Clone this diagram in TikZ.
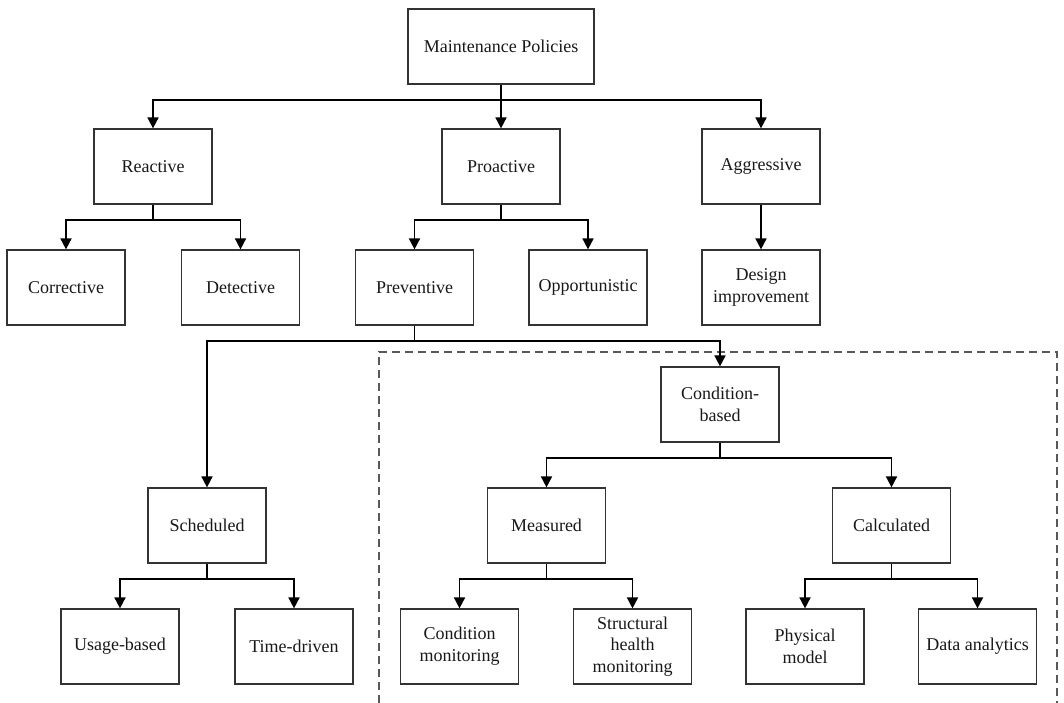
\documentclass[tikz,border=0pt]{standalone}
\usepackage{fontspec}
\setmainfont{Liberation Serif}
\usetikzlibrary{arrows.meta}
\begin{document}
\begin{tikzpicture}[x=1pt,y=-1pt,
  box/.style={draw=black!80, line width=1.2pt, fill=white, rectangle,
    minimum width=118pt, minimum height=75pt, inner sep=2pt, align=center,
    font=\fontsize{18}{21.7}\selectfont, text=black!90},
  arr/.style={draw=black, line width=1.7pt,
    -{Triangle[length=11pt,width=11pt]}},
  conn/.style={draw=black, line width=1.7pt},
  frame/.style={draw=black!65, line width=1.1pt, dash pattern=on 8pt off 5pt}]
\useasboundingbox (0,0) rectangle (1064,703);

% dashed frame around the condition-based branch (open at the bottom)
\coordinate (f1) at (379,703);
\coordinate (f2) at (379,352);
\coordinate (f3) at (1057,352);
\coordinate (f4) at (1057,703);
\draw[frame] (f1) -- (f2) -- (f3) -- (f4);

% level 0
\node[box, minimum width=186pt] (mp) at (501,46.5) {Maintenance Policies};
% level 1
\node[box] (reactive)   at (153,166.5) {Reactive};
\node[box] (proactive)  at (501,166.5) {Proactive};
\node[box] (aggressive) at (761,166.5) {Aggressive};
% level 2
\node[box] (corrective)    at (66,287.5)  {Corrective};
\node[box] (detective)     at (240.5,287.5) {Detective};
\node[box] (preventive)    at (414.5,287.5) {Preventive};
\node[box] (opportunistic) at (588,287.5) {Opportunistic};
\node[box] (design)        at (761,287.5) {Design\\improvement};
% condition-based
\node[box] (condbased) at (720,404.5) {Condition-\\based};
% level 3
\node[box] (scheduled)  at (207,525.5)   {Scheduled};
\node[box] (measured)   at (546.5,525.5) {Measured};
\node[box] (calculated) at (891.5,525.5) {Calculated};
% level 4
\node[box] (usage)    at (120,646.5)   {Usage-based};
\node[box] (timedrv)  at (294,646.5)   {Time-driven};
\node[box] (condmon)  at (459.5,646.5) {Condition\\monitoring};
\node[box] (shm)      at (632.5,646.5) {Structural\\health\\monitoring};
\node[box] (physical) at (805,646.5)   {Physical\\model};
\node[box] (data)     at (977.5,646.5) {Data analytics};

% junction points of the branching connectors
\coordinate (jmp)   at (501,100);
\coordinate (jre)   at (153,220);
\coordinate (jpro)  at (501,220);
\coordinate (jpre)  at (414.5,341);
\coordinate (jcb)   at (720,458);
\coordinate (jsch)  at (207,579);
\coordinate (jmea)  at (546.5,579);
\coordinate (jcal)  at (891.5,579);

% connectors
\draw[conn] (mp.south) -- (jmp);
\draw[arr] (jmp) -| (reactive.north);
\draw[arr] (jmp) -- (proactive.north);
\draw[arr] (jmp) -| (aggressive.north);

\draw[conn] (reactive.south) -- (jre);
\draw[arr] (jre) -| (corrective.north);
\draw[arr] (jre) -| (detective.north);

\draw[conn] (proactive.south) -- (jpro);
\draw[arr] (jpro) -| (preventive.north);
\draw[arr] (jpro) -| (opportunistic.north);

\draw[arr] (aggressive.south) -- (design.north);

\draw[conn] (preventive.south) -- (jpre);
\draw[arr] (jpre) -| (scheduled.north);
\draw[arr] (jpre) -| (condbased.north);

\draw[conn] (condbased.south) -- (jcb);
\draw[arr] (jcb) -| (measured.north);
\draw[arr] (jcb) -| (calculated.north);

\draw[conn] (scheduled.south) -- (jsch);
\draw[arr] (jsch) -| (usage.north);
\draw[arr] (jsch) -| (timedrv.north);

\draw[conn] (measured.south) -- (jmea);
\draw[arr] (jmea) -| (condmon.north);
\draw[arr] (jmea) -| (shm.north);

\draw[conn] (calculated.south) -- (jcal);
\draw[arr] (jcal) -| (physical.north);
\draw[arr] (jcal) -| (data.north);
\end{tikzpicture}
\end{document}
